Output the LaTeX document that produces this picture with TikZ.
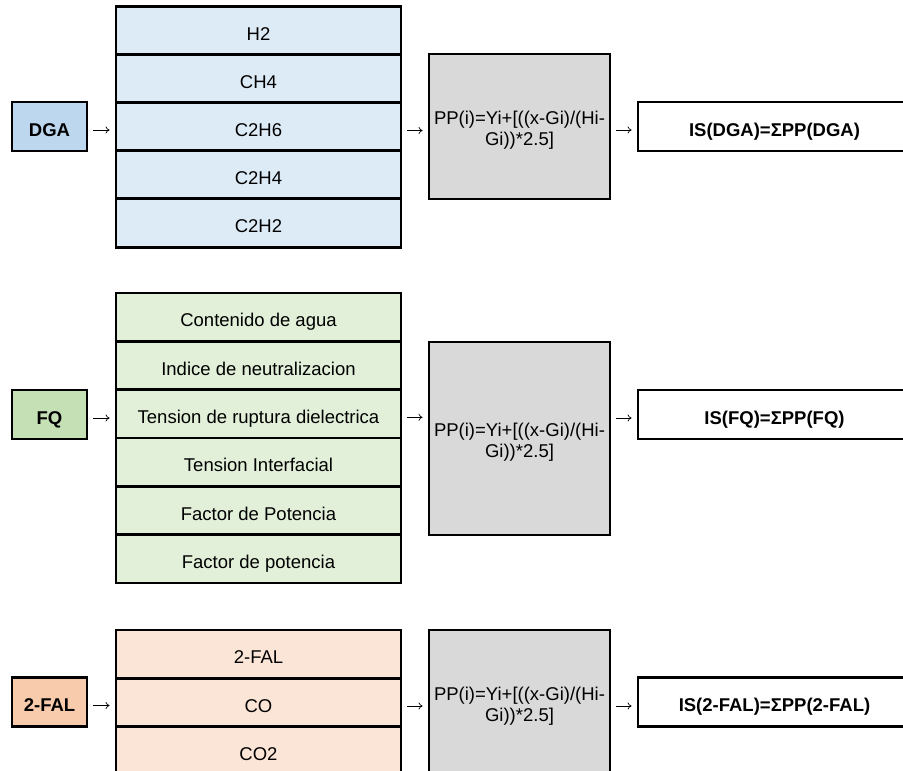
\documentclass[tikz,border=0pt]{standalone}
\usepackage{fontspec}
\setmainfont{Liberation Sans}
\usetikzlibrary{arrows.meta}
\definecolor{dgaB}{HTML}{BDD7EE}
\definecolor{dgaL}{HTML}{DDEBF7}
\definecolor{fqB}{HTML}{C5E0B4}
\definecolor{fqL}{HTML}{E2F0D9}
\definecolor{falB}{HTML}{F8CBAD}
\definecolor{falL}{HTML}{FBE5D6}
\definecolor{calcG}{HTML}{D9D9D9}
\newcommand\dfsize{\fontsize{18.5}{21}\selectfont}
\begin{document}
\begin{tikzpicture}[x=1pt,y=-1pt,
  box/.style={draw=black, line width=2.8pt, rectangle, inner sep=0pt, font=\dfsize},
  oneline/.style={text height=23pt, text depth=4pt},
  src/.style={box, oneline, minimum width=75pt, minimum height=49pt, font=\dfsize\bfseries},
  cell/.style={box, oneline, minimum width=285pt, minimum height=48.3pt},
  calcbox/.style={box, fill=calcG, minimum width=181pt, align=center, text height=41.5pt, text depth=3.9pt},
  res/.style={box, oneline, fill=white, minimum width=273pt, minimum height=49pt, font=\dfsize\bfseries},
  conn/.style={-{Computer Modern Rightarrow[length=4pt,width=7pt]}, line width=0.7pt, shorten >=5pt, shorten <=5pt}]
\useasboundingbox (0,0) rectangle (903,771);
\clip (0,0) rectangle (903,771);

% ---------------- DGA ----------------
\node[src, fill=dgaB] (dga) at (49.5,126.5) {DGA};
\node[cell, fill=dgaL] (dga1) at (258.5,31) {H2};
\node[cell, fill=dgaL] (dga2) at (258.5,79) {CH4};
\node[cell, fill=dgaL] (dga3) at (258.5,127) {C2H6};
\node[cell, fill=dgaL] (dga4) at (258.5,175) {C2H4};
\node[cell, fill=dgaL] (dga5) at (258.5,223) {C2H2};
\node[calcbox, minimum height=145pt] (dgac) at (519.5,126.5) {PP(i)=Yi+[((x-Gi)/(Hi-\\Gi))*2.5]};
\node[res] (dgar) at (774.5,126.5) {IS(DGA)=ΣPP(DGA)};
\draw[conn] ([yshift=-3.5pt]dga.east) -- ([yshift=-3.5pt]dga.east -| dga3.west);
\draw[conn] ([yshift=-3.5pt]dga3.east) -- ([yshift=-3.5pt]dga3.east -| dgac.west);
\draw[conn] ([yshift=-3.5pt]dgac.east) -- ([yshift=-3.5pt]dgac.east -| dgar.west);

% ---------------- FQ ----------------
\node[src, fill=fqB] (fq) at (49.5,414.5) {FQ};
\node[cell, fill=fqL] (fq1) at (258.5,317.2) {Contenido de agua};
\node[cell, fill=fqL] (fq2) at (258.5,365.5) {Indice de neutralizacion};
\node[cell, fill=fqL] (fq3) at (258.5,413.8) {Tension de ruptura dielectrica};
\node[cell, fill=fqL] (fq4) at (258.5,462.2) {Tension Interfacial};
\node[cell, fill=fqL] (fq5) at (258.5,510.5) {Factor de Potencia};
\node[cell, fill=fqL] (fq6) at (258.5,558.8) {Factor de potencia};
\node[calcbox, minimum height=193pt] (fqc) at (519.5,438.5) {PP(i)=Yi+[((x-Gi)/(Hi-\\Gi))*2.5]};
\node[res] (fqr) at (774.5,414.5) {IS(FQ)=ΣPP(FQ)};
\draw[conn] ([yshift=-3.5pt]fq.east) -- ([yshift=-3.5pt]fq.east -| fq3.west);
\draw[conn] ([yshift=-3.5pt]fq3.east) -- ([yshift=-3.5pt]fq3.east -| fqc.west);
\draw[conn] ([yshift=-3.5pt]fqr.west -| fqc.east) -- ([yshift=-3.5pt]fqr.west);

% ---------------- 2-FAL ----------------
\node[src, fill=falB] (fal) at (49.5,702) {2-FAL};
\node[cell, fill=falL] (fal1) at (258.5,654.2) {2-FAL};
\node[cell, fill=falL] (fal2) at (258.5,702.5) {CO};
\node[cell, fill=falL] (fal3) at (258.5,750.8) {CO2};
\node[calcbox, minimum height=145pt] (falc) at (519.5,702.5) {PP(i)=Yi+[((x-Gi)/(Hi-\\Gi))*2.5]};
\node[res] (falr) at (774.5,702) {IS(2-FAL)=ΣPP(2-FAL)};
\draw[conn] ([yshift=-3.5pt]fal.east) -- ([yshift=-3.5pt]fal.east -| fal2.west);
\draw[conn] ([yshift=-3.5pt]fal2.east) -- ([yshift=-3.5pt]fal2.east -| falc.west);
\draw[conn] ([yshift=-3.5pt]falc.east) -- ([yshift=-3.5pt]falc.east -| falr.west);
\end{tikzpicture}
\end{document}
